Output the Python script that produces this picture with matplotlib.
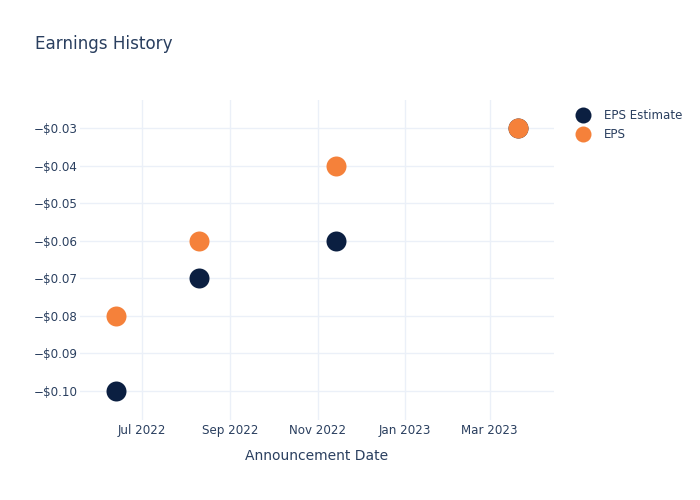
import numpy as np
import pandas as pd
import matplotlib.pyplot as plt
import matplotlib.dates as mdates
from matplotlib.ticker import FuncFormatter, MultipleLocator

dates = pd.to_datetime(['2022-06-13', '2022-08-10', '2022-11-14', '2023-03-21'])
eps_estimate = [-0.10, -0.07, -0.06, -0.03]
eps_actual = [-0.08, -0.06, -0.04, -0.03]

text_color = '#2a3f5f'
grid_color = '#ebf0f8'
navy = '#0b1f41'
orange = '#f5813a'

plt.rcParams['font.family'] = ['DejaVu Sans']

fig = plt.figure(figsize=(7, 5), dpi=100)
ax = fig.add_axes([80 / 700, 80 / 500, 474 / 700, 320 / 500])

ax.plot(dates, eps_estimate, 'o', color=navy, markersize=14.4, markeredgewidth=0,
        label='EPS Estimate', zorder=3)
ax.plot(dates, eps_actual, 'o', color=orange, markersize=14.4, markeredgewidth=0,
        label='EPS', zorder=4)

ax.set_xlim(pd.Timestamp('2022-05-19'), pd.Timestamp('2023-04-15'))
ax.set_ylim(-0.1077, -0.02255)

ax.xaxis.set_major_locator(mdates.MonthLocator(bymonth=[1, 3, 5, 7, 9, 11]))
ax.xaxis.set_major_formatter(mdates.DateFormatter('%b %Y'))
ax.yaxis.set_major_locator(MultipleLocator(0.01))
ax.yaxis.set_major_formatter(FuncFormatter(
    lambda v, p: ('\u2212$%.2f' % abs(v)) if v < -1e-9 else '$%.2f' % abs(v)))

for s in ax.spines.values():
    s.set_visible(False)
ax.grid(True, color=grid_color, linewidth=1)
ax.set_axisbelow(True)
ax.tick_params(length=0, labelsize=8.6, colors=text_color)
ax.tick_params(axis='y', pad=1.5)
ax.tick_params(axis='x', pad=3.2)

ax.set_xlabel('Announcement Date', fontsize=10, color=text_color, labelpad=8)

fig.text(35 / 700, 1 - 44 / 500, 'Earnings History', fontsize=12.1, color=text_color,
         va='center', ha='left')

leg = fig.legend(loc='upper left', bbox_to_anchor=(563 / 700, 1 - 98 / 500), frameon=False,
                 fontsize=8.6, labelcolor=text_color, markerscale=0.8, handletextpad=0.9,
                 labelspacing=0.5, handlelength=1.6)

fig.savefig('out.png', dpi=100)
